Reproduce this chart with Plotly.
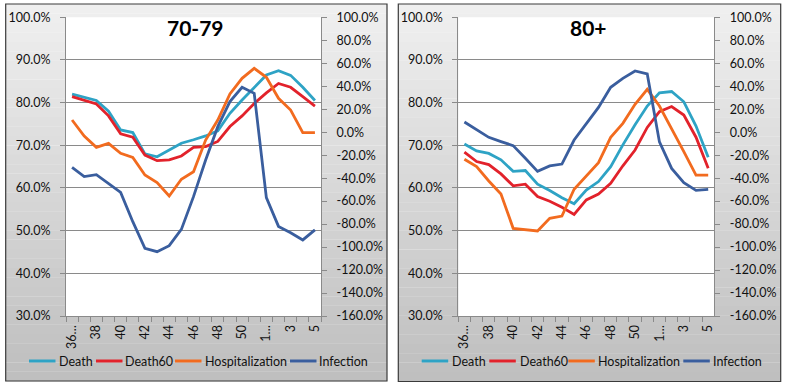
import plotly.graph_objects as go

# ---------------- data ----------------
weeks = ["36", "37", "38", "39", "40", "41", "42", "43", "44", "45", "46", "47",
         "48", "49", "50", "51", "1", "2", "3", "4", "5"]
week_labels = ["36…", "", "38", "", "40", "", "42", "", "44", "", "46", "", "48",
               "", "50", "", "1…", "", "3", "", "5"]

# 70-79 (Death, Death60 on left axis; Hospitalization, Infection on right axis)
death_70 = [82.0, 81.2, 80.5, 78.0, 73.6, 73.0, 68.0, 67.3, 68.9, 70.5, 71.3,
            72.2, 73.4, 77.5, 80.6, 83.6, 86.5, 87.5, 86.4, 83.6, 80.5]
death60_70 = [81.4, 80.5, 79.7, 76.9, 72.7, 71.9, 67.7, 66.4, 66.6, 67.5, 69.5,
              69.7, 70.9, 74.4, 76.9, 79.8, 82.3, 84.5, 83.6, 81.4, 79.2]
hosp_70 = [10.6, -3.3, -13.2, -9.7, -18.4, -21.9, -37.3, -43.9, -55.5, -41.0,
           -34.4, -6.8, 10.6, 33.3, 46.9, 55.6, 47.8, 29.5, 19.3, -0.4, -0.4]
infection_70 = [-30.6, -38.7, -37.0, -44.5, -52.4, -77.9, -101.1, -104.0, -98.8,
                -84.6, -56.1, -24.2, 4.8, 26.6, 39.1, 33.8, -57.0, -82.0, -87.5,
                -93.8, -85.1]

# 80+
death_80 = [70.3, 68.7, 68.1, 66.6, 63.9, 64.1, 60.9, 59.4, 57.7, 56.3, 59.5,
            61.5, 65.0, 70.1, 74.8, 79.2, 82.3, 82.6, 80.2, 74.5, 67.2]
death60_80 = [68.4, 66.2, 65.5, 63.3, 60.5, 60.9, 58.0, 56.9, 55.5, 53.8, 57.2,
              58.6, 61.1, 65.2, 68.9, 74.2, 77.9, 79.1, 77.1, 71.9, 64.6]
hosp_80 = [-23.6, -30.0, -42.5, -53.8, -83.7, -85.1, -86.0, -75.0, -73.0, -49.7,
           -38.1, -26.5, -4.5, 7.7, 24.3, 37.3, 22.8, 3.4, -16.9, -37.3, -37.3]
infection_80 = [8.9, 1.9, -4.5, -8.2, -11.7, -22.7, -34.1, -29.4, -27.7, -6.8,
                7.7, 21.6, 39.1, 46.9, 53.3, 50.7, -8.5, -31.5, -43.9, -50.6, -49.7]

titles = ["70-79", "80+"]
series_names = ["Death", "Death60", "Hospitalization", "Infection"]
left_ticks = [30, 40, 50, 60, 70, 80, 90, 100]
right_ticks = [-160, -140, -120, -100, -80, -60, -40, -20, 0, 20, 40, 60, 80, 100]

# ---------------- styling ----------------
W, H = 785, 388
colors = ["#2EA3C5", "#E2222B", "#F26B1F", "#3A5E9E"]
FONT = "Lato"
TXT = "#111111"
GRID = "#8a8a8a"


def px(xp):
    return xp / W


def py(yp):
    return 1 - yp / H


panels = [
    dict(box=(5.7, 4, 387, 381), plot=(66, 17.3, 321, 316),
         legend_line=[29, 96, 175, 290], legend_text=[57, 123, 203, 317],
         data=[death_70, death60_70, hosp_70, infection_70]),
    dict(box=(398.3, 4, 780.7, 381.5), plot=(458.3, 17.3, 714.3, 316),
         legend_line=[421.7, 489.3, 568.3, 683.3], legend_text=[450, 518, 596, 711],
         data=[death_80, death60_80, hosp_80, infection_80]),
]

fig = go.Figure()
shapes = []
annotations = []
layout = {}


def lerp_color(c1, c2, t):
    r = [round(c1[i] + (c2[i] - c1[i]) * t) for i in range(3)]
    return "rgb(%d,%d,%d)" % tuple(r)


for k, p in enumerate(panels):
    xa = "x" if k == 0 else "x2"
    ya_l = "y" if k == 0 else "y3"
    ya_r = "y2" if k == 0 else "y4"
    x0, y0, x1, y1 = p["box"]
    # gradient background
    n = 40
    for b in range(n):
        ya = y0 + (y1 - y0) * b / n
        yb = y0 + (y1 - y0) * (b + 1) / n
        shapes.append(dict(type="rect", xref="paper", yref="paper", layer="below",
                           x0=px(x0), x1=px(x1), y0=py(yb) - 0.0005, y1=py(ya),
                           fillcolor=lerp_color((240, 240, 240), (190, 190, 190), (b + 0.5) / n),
                           line=dict(width=0)))
    # plot area white
    px0, py0, px1, py1 = p["plot"]
    shapes.append(dict(type="rect", xref="paper", yref="paper", layer="below",
                       x0=px(px0), x1=px(px1), y0=py(py1), y1=py(py0),
                       fillcolor="white", line=dict(width=0)))
    # border
    shapes.append(dict(type="rect", xref="paper", yref="paper", layer="below",
                       x0=px(x0), x1=px(x1), y0=py(y1), y1=py(y0),
                       fillcolor="rgba(0,0,0,0)", line=dict(color="#3a3a3a", width=1.2)))

    # traces
    for s, (name, vals) in enumerate(zip(series_names, p["data"])):
        fig.add_trace(go.Scatter(
            x=weeks, y=vals, name=name, mode="lines",
            line=dict(color=colors[s], width=2.8),
            xaxis=xa, yaxis=ya_l if s < 2 else ya_r,
            showlegend=False))

    # manual legend
    for s, name in enumerate(series_names):
        lx = p["legend_line"][s]
        shapes.append(dict(type="line", xref="paper", yref="paper",
                           x0=px(lx), x1=px(lx + 26.5), y0=py(361), y1=py(361),
                           line=dict(color=colors[s], width=3)))
        annotations.append(dict(text=name, xref="paper", yref="paper",
                                x=px(p["legend_text"][s]), y=py(361),
                                xanchor="left", yanchor="middle", showarrow=False,
                                font=dict(family=FONT, size=12.5, color=TXT)))

    # title
    annotations.append(dict(text=titles[k], xref="paper", yref="paper",
                            x=px((px0 + px1) / 2 + 2), y=py(28), xanchor="center",
                            yanchor="middle", showarrow=False,
                            font=dict(family=FONT, size=21, color="#000000", weight="bold")))

    xdom = [px(px0), px(px1)]
    ydom = [py(py1), py(py0)]
    xkey = "xaxis" if k == 0 else "xaxis2"
    ylkey = "yaxis" if k == 0 else "yaxis3"
    yrkey = "yaxis2" if k == 0 else "yaxis4"
    layout[xkey] = dict(domain=xdom, anchor=ya_l, type="category", automargin=False,
                        tickmode="array", tickvals=weeks, ticktext=week_labels,
                        tickson="boundaries", ticks="outside", ticklen=5,
                        tickcolor=GRID, showline=True, linecolor=GRID, linewidth=1,
                        showgrid=False, zeroline=False, tickangle=-90,
                        ticklabelstandoff=3,
                        tickfont=dict(family=FONT, size=12.5, color=TXT),
                        range=[-0.5, len(weeks) - 0.5], fixedrange=True)
    layout[ylkey] = dict(domain=ydom, anchor=xa, range=[30, 100], automargin=False,
                         tickmode="array", tickvals=left_ticks,
                         ticktext=["%.1f%%" % v for v in left_ticks],
                         ticks="outside", ticklen=5, tickcolor=GRID,
                         showline=True, linecolor=GRID, linewidth=1,
                         showgrid=False, zeroline=False, ticklabelstandoff=7,
                         minor=dict(tickmode="array", tickvals=left_ticks[1:-1],
                                    showgrid=True, gridcolor=GRID, gridwidth=1,
                                    ticks=""),
                         tickfont=dict(family=FONT, size=12.5, color=TXT), fixedrange=True)
    layout[yrkey] = dict(overlaying=ya_l, anchor=xa, side="right", range=[-160, 100],
                         automargin=False,
                         tickmode="array", tickvals=right_ticks,
                         ticktext=["%.1f%%" % v for v in right_ticks],
                         ticks="outside", ticklen=5, tickcolor=GRID,
                         showline=True, linecolor=GRID, linewidth=1,
                         showgrid=False, zeroline=False, ticklabelstandoff=7,
                         tickfont=dict(family=FONT, size=12.5, color=TXT), fixedrange=True)

fig.update_layout(
    width=W, height=H, margin=dict(l=0, r=0, t=0, b=0, autoexpand=False),
    paper_bgcolor="white", plot_bgcolor="white",
    shapes=shapes, annotations=annotations, showlegend=False,
    font=dict(family=FONT, color=TXT),
    **layout)

fig.write_html("out.html", config={"displayModeBar": False, "staticPlot": True},
               post_script="document.body.style.margin='0';document.body.style.padding='0';")
